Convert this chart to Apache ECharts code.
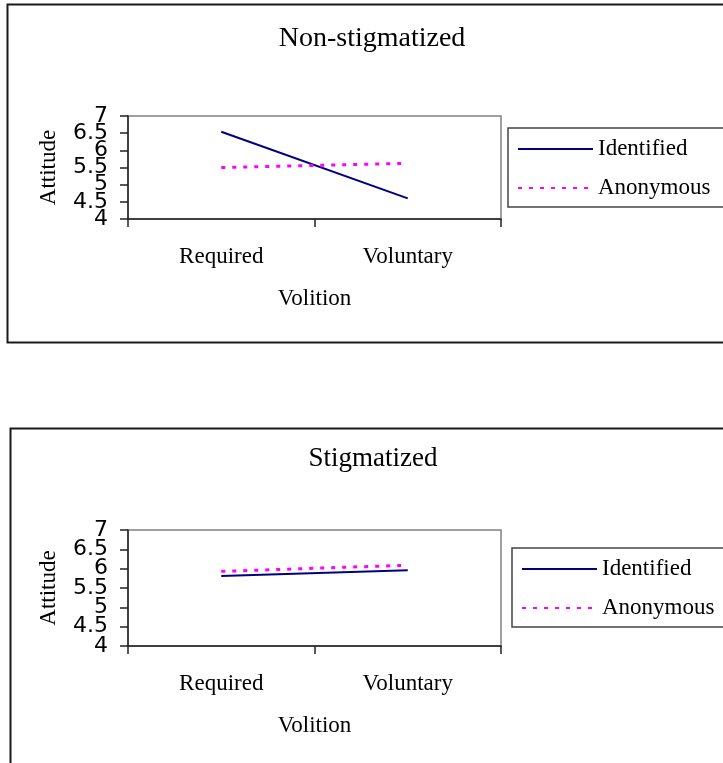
<!DOCTYPE html>
<html>
<head>
<meta charset="utf-8">
<script src="https://cdn.jsdelivr.net/npm/echarts@6/dist/echarts.min.js"></script>
<style>
  html, body { margin: 0; padding: 0; background: #fff; }
  #chart { width: 723px; height: 763px; }
</style>
</head>
<body>
<div id="chart"></div>
<script>
// categories on the x axis
var categories = ["Required", "Voluntary"];
// y axis range (ticks every 0.5)
var yMin = 4;
var yMax = 7;
var yStep = 0.5;
// Non-stigmatized panel
var nonStigIdentified = [6.54, 4.6];
var nonStigAnonymous = [5.5, 5.62];
// Stigmatized panel
var stigIdentified = [5.81, 5.96];
var stigAnonymous = [5.93, 6.09];

var serif = "Liberation Serif";
var labelFont = { fontFamily: "DejaVu Sans", fontSize: 22, color: "#000" };

function xAxisFor(gridIndex) {
  return {
    type: "category",
    gridIndex: gridIndex,
    data: categories,
    boundaryGap: true,
    name: "Volition",
    nameLocation: "middle",
    nameGap: 68,
    nameTextStyle: { fontFamily: serif, fontSize: 23, color: "#000" },
    axisLine: { show: true, lineStyle: { color: "#222", width: 1.5 } },
    axisTick: { show: true, alignWithLabel: false, length: 8, lineStyle: { color: "#222", width: 1.5 } },
    axisLabel: { fontFamily: serif, fontSize: 23, color: "#000", margin: 26 },
    splitLine: { show: false }
  };
}

function isWhole(v) {
  return Math.abs(v - Math.round(v)) < 1e-9;
}

// main y axis: line, ticks, name and the whole-number labels
function yAxisFor(gridIndex) {
  return {
    type: "value",
    gridIndex: gridIndex,
    position: "left",
    min: yMin,
    max: yMax,
    interval: yStep,
    name: "Attitude",
    nameLocation: "middle",
    nameRotate: 90,
    nameGap: 68,
    nameTextStyle: { fontFamily: serif, fontSize: 23, color: "#000" },
    axisLine: { show: true, lineStyle: { color: "#222", width: 1.5 } },
    axisTick: { show: true, length: 8, lineStyle: { color: "#222", width: 1.5 } },
    axisLabel: Object.assign({
      margin: 20, showMinLabel: true, showMaxLabel: true,
      formatter: function (v) { return isWhole(v) ? String(v) : ""; }
    }, labelFont),
    splitLine: { show: false }
  };
}

// overlay axis on the same grid that only writes the .5 labels
// (echarts drops labels next to min/max when they overlap, the original keeps them all)
function halfAxisFor(gridIndex) {
  return {
    type: "value",
    gridIndex: gridIndex,
    position: "left",
    offset: 0,
    min: yMin,
    max: yMax,
    interval: yStep,
    axisLine: { show: false, onZero: false },
    axisTick: { show: false },
    axisLabel: Object.assign({
      margin: 20, showMinLabel: false, showMaxLabel: false,
      formatter: function (v) { return isWhole(v) ? "" : String(v); }
    }, labelFont),
    splitLine: { show: false }
  };
}

function lineSeries(name, data, idx, solid) {
  return {
    name: name,
    type: "line",
    xAxisIndex: idx,
    yAxisIndex: idx,
    data: data,
    symbol: "none",
    silent: true,
    lineStyle: solid
      ? { color: "#000080", width: 2, type: "solid" }
      : { color: "#ff00ff", width: 3, type: [4, 7] },
    itemStyle: { color: solid ? "#000080" : "#ff00ff" }
  };
}

function legendFor(left, top) {
  return {
    data: ["Identified", "Anonymous"],
    orient: "vertical",
    left: left,
    top: top,
    padding: [8, 40, 6, 9],
    itemGap: 13,
    itemWidth: 75,
    itemHeight: 14,
    borderColor: "#444",
    borderWidth: 1.5,
    selectedMode: false,
    itemStyle: { opacity: 0 },
    textStyle: { fontFamily: serif, fontSize: 23, color: "#000", lineHeight: 26 }
  };
}

var chart = echarts.init(document.getElementById("chart"));
chart.setOption({
  animation: false,
  graphic: [
    { type: "rect", shape: { x: 7.5, y: 4.5, width: 800, height: 338 }, style: { fill: "none", stroke: "#1a1a1a", lineWidth: 2 } },
    { type: "rect", shape: { x: 10.5, y: 428.5, width: 800, height: 400 }, style: { fill: "none", stroke: "#1a1a1a", lineWidth: 2 } },
    { type: "text", x: 372, y: 39, style: { text: "Non-stigmatized", fontFamily: serif, fontSize: 28, fill: "#000", align: "center", verticalAlign: "middle" } },
    { type: "text", x: 373, y: 459, style: { text: "Stigmatized", fontFamily: serif, fontSize: 27, fill: "#000", align: "center", verticalAlign: "middle" } }
  ],
  grid: [
    { left: 128, top: 116, width: 373, height: 103, show: true, borderColor: "#808080", borderWidth: 1.5 },
    { left: 128, top: 530, width: 373, height: 116, show: true, borderColor: "#808080", borderWidth: 1.5 }
  ],
  legend: [legendFor(508, 128), legendFor(512, 548)],
  xAxis: [xAxisFor(0), xAxisFor(1)],
  yAxis: [yAxisFor(0), yAxisFor(1), halfAxisFor(0), halfAxisFor(1)],
  series: [
    lineSeries("Identified", nonStigIdentified, 0, true),
    lineSeries("Anonymous", nonStigAnonymous, 0, false),
    lineSeries("Identified", stigIdentified, 1, true),
    lineSeries("Anonymous", stigAnonymous, 1, false)
  ]
});
</script>
</body>
</html>
